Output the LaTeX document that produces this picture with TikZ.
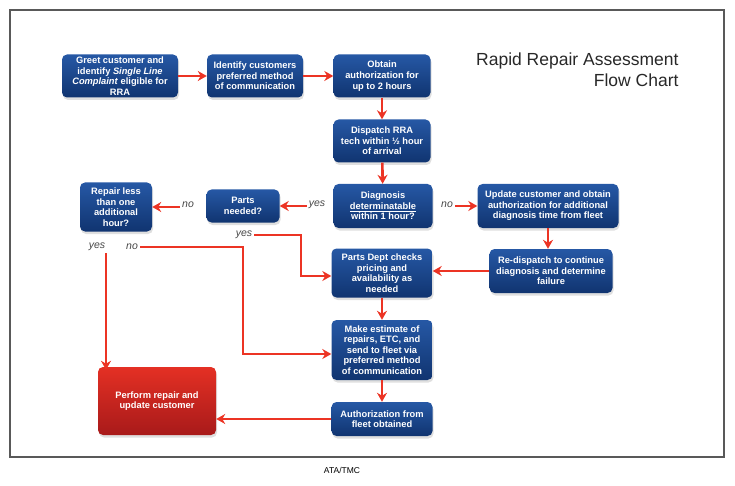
\documentclass[tikz,border=0pt]{standalone}
\usepackage{fontspec}
\setmainfont{Liberation Sans}
\usetikzlibrary{arrows.meta,shadows}
\definecolor{rraBlueTop}{RGB}{38,88,165}
\definecolor{rraBlueBot}{RGB}{16,52,112}
\definecolor{rraRedTop}{RGB}{228,48,36}
\definecolor{rraRedBot}{RGB}{168,26,26}
\definecolor{rraArrow}{RGB}{236,52,36}
\definecolor{rraLabel}{RGB}{70,70,70}
\definecolor{rraTitle}{RGB}{40,40,40}
\begin{document}
\begin{tikzpicture}[x=1pt, y=-1pt,
  box/.style 2 args={rectangle, rounded corners=5pt, top color=rraBlueTop,
    bottom color=rraBlueBot, text=white, align=center, inner sep=2pt,
    minimum width=#1, minimum height=#2,
    font=\fontsize{9.3}{10.6}\selectfont\bfseries,
    drop shadow={shadow xshift=1pt, shadow yshift=-2.5pt, opacity=0.25}},
  redbox/.style 2 args={box={#1}{#2}, top color=rraRedTop, bottom color=rraRedBot},
  arr/.style={draw=rraArrow, line width=2.6pt, -{Stealth[length=9pt,width=10pt]}},
  lbl/.style={font=\fontsize{10.5}{12}\selectfont\itshape, text=rraLabel, inner sep=2pt}
]
\useasboundingbox (0,0) rectangle (735,486);
\draw[black!65, line width=1.3pt] (10,10) rectangle (724,457);

% title and source
\node[anchor=north east, align=right, text=rraTitle,
  font=\fontsize{17.5}{21}\selectfont] (title) at (682,49)
  {Rapid Repair Assessment\\Flow Chart};
\node[font=\fontsize{8.5}{10}\selectfont] (source) at (342,470) {ATA/TMC};

% boxes
\node[box={116pt}{43pt}] (greet) at (120,76)
  {Greet customer and\\identify \textit{Single Line}\\\textit{Complaint} eligible for\\RRA};
\node[box={96pt}{43pt}] (identify) at (255,76)
  {Identify customers\\preferred method\\of communication};
\node[box={97pt}{43pt}] (obtain) at (382,76)
  {Obtain\\authorization for\\up to 2 hours};
\node[box={97pt}{43pt}] (dispatch) at (382,141)
  {Dispatch RRA\\tech within \textonehalf{} hour\\of arrival};
\node[box={99pt}{44pt}] (diagnosis) at (383,206)
  {Diagnosis\\\underline{determinatable}\\within 1 hour?};
\node[box={73pt}{33pt}] (partsneeded) at (243,206)
  {Parts\\needed?};
\node[box={72pt}{49pt}] (repairless) at (116,207)
  {Repair less\\than one\\additional\\hour?};
\node[box={141pt}{44pt}] (update) at (548,206)
  {Update customer and obtain\\authorization for additional\\diagnosis time from fleet};
\node[box={123pt}{44pt}] (redispatch) at (551,271)
  {Re-dispatch to continue\\diagnosis and determine\\failure};
\node[box={101pt}{49pt}] (partsdept) at (382,273)
  {Parts Dept checks\\pricing and\\availability as\\needed};
\node[box={101pt}{60pt}] (estimate) at (382,350)
  {Make estimate of\\repairs, ETC, and\\send to fleet via\\preferred method\\of communication};
\node[box={101pt}{34pt}] (authorization) at (382,419)
  {Authorization from\\fleet obtained};
\node[redbox={118pt}{68pt}] (perform) at (157,401)
  {Perform repair and\\update customer};

% labels
\node[lbl] (nodiag) at (447,205) {no};
\node[lbl] (yesdiag) at (317,205) {yes};
\node[lbl] (noparts) at (188,205) {no};
\node[lbl] (yesparts) at (244,235) {yes};
\node[lbl] (yesrepair) at (97,247) {yes};
\node[lbl] (norepair) at (132,247) {no};
\coordinate (bendparts) at (301,235);
\coordinate (bendrepair) at (243,247);

% connectors
\draw[arr] (greet) -- (identify);
\draw[arr] (identify) -- (obtain);
\draw[arr] (obtain) -- (dispatch);
\draw[arr] (dispatch) -- (diagnosis);
\draw[arr] (nodiag.east |- update.west) -- (update.west);
\draw[arr] (yesdiag.west |- partsneeded.east) -- (partsneeded.east);
\draw[arr] (noparts.west |- repairless.east) -- (repairless.east);
\draw[arr] (update.south -| 548,0) -- (redispatch.north -| 548,0);
\draw[arr] (redispatch.west) -- (redispatch.west -| partsdept.east);
\draw[arr] (yesparts.east) -- (bendparts) |- ([yshift=-3pt]partsdept.west);
\draw[arr] (norepair.east) -- (bendrepair) |- ([yshift=-4pt]estimate.west);
\draw[arr] ([xshift=9pt]yesrepair.south) -- ([xshift=9pt,yshift=-3pt]yesrepair.south |- perform.north);
\draw[arr] (partsdept) -- (estimate);
\draw[arr] (estimate) -- (authorization);
\draw[arr] (authorization.west) -- (perform.east |- authorization.west);
\end{tikzpicture}
\end{document}
